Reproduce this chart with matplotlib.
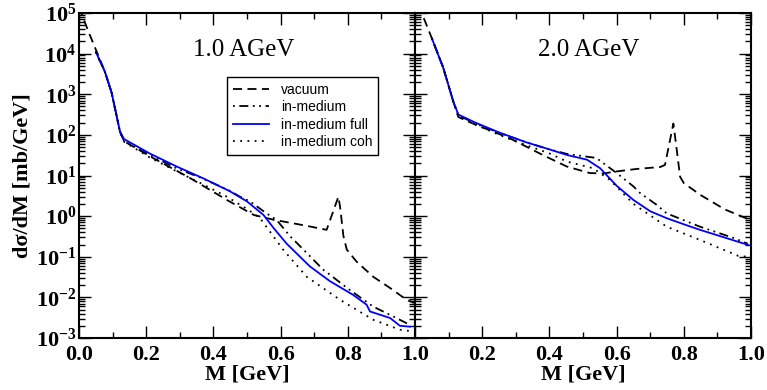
import matplotlib
matplotlib.use("Agg")
import matplotlib.pyplot as plt
import matplotlib.ticker as mticker
import numpy as np

plt.rcParams['font.family'] = ['Liberation Serif', 'DejaVu Serif']
plt.rcParams['mathtext.fontset'] = 'custom'
plt.rcParams['mathtext.rm'] = 'Liberation Serif'
plt.rcParams['mathtext.bf'] = 'Liberation Serif:bold'

# ---- 1.0 AGeV ----
m_vac1 = [0.0, 0.028, 0.053, 0.077, 0.097, 0.122, 0.135, 0.22, 0.33, 0.44, 0.52, 0.58, 0.64, 0.69,
          0.737, 0.772, 0.777, 0.787, 0.797, 0.826, 0.876, 0.926, 0.975, 1.0]
vac1 = [1.4e5, 3.5e4, 1.1e4, 3.6e3, 1.1e3, 120, 69, 27, 8.7, 2.5, 1.07, 0.81, 0.66, 0.55,
        0.46, 3.0, 1.7, 0.32, 0.15, 0.076, 0.032, 0.017, 0.0087, 0.0072]

m_med1 = [0.05, 0.077, 0.097, 0.122, 0.134, 0.21, 0.291, 0.37, 0.449, 0.479, 0.509, 0.558, 0.588,
          0.628, 0.648, 0.727, 0.807, 0.876, 0.935, 0.985]
med1 = [1.1e4, 3.6e3, 1.1e3, 120, 71, 32, 15, 8.3, 4.2, 3.0, 2.3, 1.17, 0.81,
        0.32, 0.22, 0.048, 0.015, 0.0059, 0.0034, 0.0021]

m_full1 = [0.05, 0.077, 0.097, 0.122, 0.134, 0.21, 0.291, 0.37, 0.449, 0.50, 0.549, 0.58, 0.618,
           0.687, 0.747, 0.816, 0.856, 0.866, 0.926, 0.955, 0.985]
full1 = [1.1e4, 3.6e3, 1.1e3, 120, 79, 35, 16.6, 8.5, 4.1, 2.3, 1.07, 0.50, 0.21,
         0.058, 0.025, 0.0115, 0.0066, 0.0045, 0.0031, 0.0020, 0.0019]

m_coh1 = [0.05, 0.077, 0.097, 0.122, 0.134, 0.21, 0.291, 0.37, 0.44, 0.50, 0.539, 0.608, 0.678,
          0.777, 0.876, 0.955, 0.994]
coh1 = [1.1e4, 3.6e3, 1.1e3, 120, 68, 28, 12.6, 6.0, 3.0, 1.5, 0.89, 0.148, 0.032,
        0.0087, 0.0028, 0.0016, 0.00145]

# ---- 2.0 AGeV ----
m_vac2 = [0.01, 0.02, 0.05, 0.084, 0.114, 0.129, 0.18, 0.233, 0.281, 0.33, 0.38, 0.452, 0.52, 0.56,
          0.60, 0.66, 0.73, 0.744, 0.769, 0.779, 0.789, 0.80, 0.85, 0.923, 1.0]
vac2 = [1.6e5, 1.0e5, 2.4e4, 4.5e3, 660, 275, 178, 120, 83, 52, 32, 16.6, 11.5, 11.2,
        12.6, 14.5, 16.2, 18.2, 190, 43, 9.3, 6.5, 3.3, 1.45, 0.79]

m_med2 = [0.05, 0.084, 0.114, 0.129, 0.18, 0.25, 0.33, 0.40, 0.452, 0.54, 0.60, 0.65, 0.67,
          0.719, 0.749, 0.848, 0.948, 0.99]
med2 = [2.4e4, 4.5e3, 660, 302, 190, 113, 66, 44, 34, 27, 11.5, 5.4, 3.7,
        1.9, 1.17, 0.55, 0.29, 0.21]

m_full2 = [0.05, 0.084, 0.114, 0.129, 0.18, 0.25, 0.33, 0.40, 0.452, 0.512, 0.551, 0.60, 0.65,
           0.70, 0.749, 0.80, 0.848, 0.92, 0.992]
full2 = [2.4e4, 4.5e3, 660, 316, 200, 115, 66, 44, 32, 24.5, 15.1, 5.6, 2.5,
         1.32, 0.89, 0.63, 0.46, 0.30, 0.195]

m_coh2 = [0.05, 0.084, 0.114, 0.129, 0.18, 0.25, 0.33, 0.40, 0.452, 0.53, 0.58, 0.65, 0.749,
          0.848, 0.962, 0.99]
coh2 = [2.4e4, 4.5e3, 660, 288, 182, 100, 56, 35, 22, 15.1, 7.8, 2.0, 0.55,
        0.26, 0.105, 0.10]

energies = ["1.0 AGeV", "2.0 AGeV"]
labels = ["vacuum", "in-medium", "in-medium full", "in-medium coh"]
x_ticks = [0.0, 0.2, 0.4, 0.6, 0.8, 1.0]

lw = 1.3
fig = plt.figure(figsize=(7.67, 3.9), dpi=100)
ax1 = fig.add_axes([79 / 767, 52 / 390, 336 / 767, 325 / 390])
ax2 = fig.add_axes([415 / 767, 52 / 390, 336 / 767, 325 / 390])

panels = [
    (ax1, (m_vac1, vac1), (m_med1, med1), (m_full1, full1), (m_coh1, coh1)),
    (ax2, (m_vac2, vac2), (m_med2, med2), (m_full2, full2), (m_coh2, coh2)),
]

for i, (ax, vac, med, full, coh) in enumerate(panels):
    ax.plot(vac[0], vac[1], color='k', lw=lw, linestyle=(0, (5, 3)), label=labels[0])
    ax.plot(med[0], med[1], color='k', lw=lw, linestyle=(0, (1, 2.5, 5, 2.5, 1, 2.5)), label=labels[1])
    ax.plot(full[0], full[1], color='#0000ff', lw=lw, linestyle='-', label=labels[2])
    ax.plot(coh[0], coh[1], color='k', lw=lw, linestyle=(0, (1, 3)), label=labels[3])

    ax.set_yscale('log')
    ax.set_xlim(0, 1)
    ax.set_ylim(1e-3, 1e5)
    ax.set_xticks(x_ticks)
    ax.xaxis.set_minor_locator(mticker.MultipleLocator(0.1))
    ax.yaxis.set_major_locator(mticker.LogLocator(base=10, numticks=20))
    ax.yaxis.set_minor_locator(mticker.LogLocator(base=10, subs=np.arange(2, 10), numticks=20))
    ax.yaxis.set_minor_formatter(mticker.NullFormatter())
    ax.tick_params(which='major', direction='in', length=8.6, width=1.0,
                   top=True, right=True, labelsize=16, pad=5)
    ax.tick_params(which='minor', direction='in', length=4.3, width=1.0, top=True, right=True)
    ax.tick_params(axis='y', which='major', pad=2)
    for s in ax.spines.values():
        s.set_linewidth(1.5)

    if i == 0:
        ax.set_xticklabels(['0.0', '0.2', '0.4', '0.6', '0.8', '1.0'], fontweight='bold')
        ax.yaxis.set_major_formatter(mticker.FuncFormatter(
            lambda v, p: r'$\mathbf{10^{%d}}$' % int(round(np.log10(v)))))
        ax.set_ylabel('d\u03c3/dM [mb/GeV]', fontsize=16, fontweight='bold', labelpad=2)
        ax.text(0.49, 0.887, energies[0], transform=ax.transAxes, fontsize=18,
                ha='center', va='center')
        leg = ax.legend(loc='upper right', bbox_to_anchor=(0.891, 0.803), borderaxespad=0,
                        prop={'family': 'Liberation Sans', 'size': 10}, fancybox=False,
                        framealpha=1, edgecolor='k', handlelength=2.6, labelspacing=0.25,
                        borderpad=0.4, handletextpad=0.9)
        leg.get_frame().set_linewidth(1.0)
    else:
        ax.set_xticklabels(['', '0.2', '0.4', '0.6', '0.8', '1.0'], fontweight='bold')
        ax.yaxis.set_major_formatter(mticker.NullFormatter())
        ax.text(0.518, 0.887, energies[1], transform=ax.transAxes, fontsize=18,
                ha='center', va='center')
    ax.set_xlabel('M [GeV]', fontsize=16, fontweight='bold', labelpad=0)

fig.savefig('out.png', dpi=100)
